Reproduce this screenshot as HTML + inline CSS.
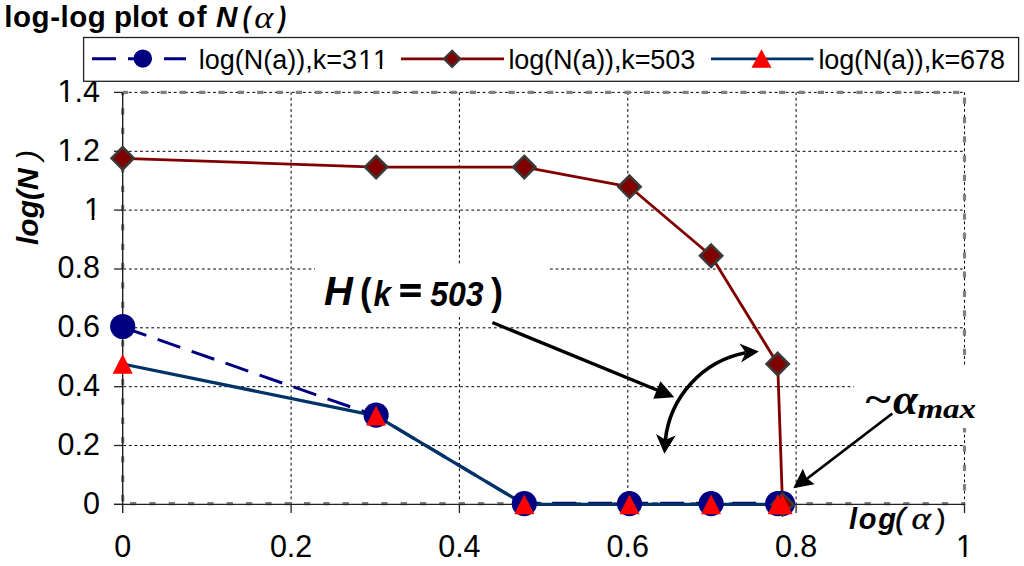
<!DOCTYPE html><html><head><meta charset="utf-8"><style>
html,body{margin:0;padding:0;background:#fff;width:1024px;height:566px;overflow:hidden}
svg{display:block}
.s{font-family:"Liberation Sans",sans-serif}
.r{font-family:"Liberation Serif",serif}
.b{font-weight:bold}.i{font-style:italic}
</style></head><body>
<svg width="1024" height="566" viewBox="0 0 1024 566">
<rect width="1024" height="566" fill="#fff"/>
<line x1="291.1" y1="92.4" x2="291.1" y2="504.4" stroke="#000" stroke-width="1" stroke-dasharray="2.8 2.815" stroke-dashoffset="0.22"/>
<line x1="459.4" y1="92.4" x2="459.4" y2="504.4" stroke="#000" stroke-width="1" stroke-dasharray="2.8 2.815" stroke-dashoffset="0.22"/>
<line x1="627.8" y1="92.4" x2="627.8" y2="504.4" stroke="#000" stroke-width="1" stroke-dasharray="2.8 2.815" stroke-dashoffset="0.22"/>
<line x1="796.1" y1="92.4" x2="796.1" y2="504.4" stroke="#000" stroke-width="1" stroke-dasharray="2.8 2.815" stroke-dashoffset="0.22"/>
<line x1="964.5" y1="92.4" x2="964.5" y2="504.4" stroke="#000" stroke-width="1" stroke-dasharray="2.8 2.815" stroke-dashoffset="0.22"/>
<line x1="122.7" y1="445.5" x2="964.5" y2="445.5" stroke="#000" stroke-width="1" stroke-dasharray="2.8 2.815" stroke-dashoffset="5.03"/>
<line x1="122.7" y1="386.7" x2="964.5" y2="386.7" stroke="#000" stroke-width="1" stroke-dasharray="2.8 2.815" stroke-dashoffset="5.03"/>
<line x1="122.7" y1="327.8" x2="964.5" y2="327.8" stroke="#000" stroke-width="1" stroke-dasharray="2.8 2.815" stroke-dashoffset="5.03"/>
<line x1="122.7" y1="269.0" x2="964.5" y2="269.0" stroke="#000" stroke-width="1" stroke-dasharray="2.8 2.815" stroke-dashoffset="5.03"/>
<line x1="122.7" y1="210.1" x2="964.5" y2="210.1" stroke="#000" stroke-width="1" stroke-dasharray="2.8 2.815" stroke-dashoffset="5.03"/>
<line x1="122.7" y1="151.3" x2="964.5" y2="151.3" stroke="#000" stroke-width="1" stroke-dasharray="2.8 2.815" stroke-dashoffset="5.03"/>
<line x1="122.7" y1="92.4" x2="964.5" y2="92.4" stroke="#000" stroke-width="1" stroke-dasharray="2.8 2.815" stroke-dashoffset="5.03"/>
<line x1="122.7" y1="92.4" x2="964.5" y2="92.4" stroke="#808080" stroke-width="3.2" stroke-dasharray="6.3 13.03" stroke-dashoffset="0.90"/>
<line x1="964.5" y1="92.4" x2="964.5" y2="504.4" stroke="#808080" stroke-width="3.2" stroke-dasharray="6.3 13.03" stroke-dashoffset="14.23"/>
<line x1="122.7" y1="503.6" x2="964.5" y2="503.6" stroke="#808080" stroke-width="3.2" stroke-dasharray="6.3 13.03" stroke-dashoffset="12.03"/>
<line x1="122.7" y1="92.4" x2="122.7" y2="504.4" stroke="#808080" stroke-width="3.2" stroke-dasharray="6.3 13.03" stroke-dashoffset="3.40"/>
<line x1="122.7" y1="92.4" x2="122.7" y2="513" stroke="#222" stroke-width="1.4"/>
<line x1="114" y1="504.4" x2="964.5" y2="504.4" stroke="#222" stroke-width="1.3"/>
<line x1="114" y1="504.4" x2="122.7" y2="504.4" stroke="#222" stroke-width="1.3"/>
<line x1="114" y1="445.5" x2="122.7" y2="445.5" stroke="#222" stroke-width="1.3"/>
<line x1="114" y1="386.7" x2="122.7" y2="386.7" stroke="#222" stroke-width="1.3"/>
<line x1="114" y1="327.8" x2="122.7" y2="327.8" stroke="#222" stroke-width="1.3"/>
<line x1="114" y1="269.0" x2="122.7" y2="269.0" stroke="#222" stroke-width="1.3"/>
<line x1="114" y1="210.1" x2="122.7" y2="210.1" stroke="#222" stroke-width="1.3"/>
<line x1="114" y1="151.3" x2="122.7" y2="151.3" stroke="#222" stroke-width="1.3"/>
<line x1="114" y1="92.4" x2="122.7" y2="92.4" stroke="#222" stroke-width="1.3"/>
<line x1="291.1" y1="504.4" x2="291.1" y2="513" stroke="#222" stroke-width="1.3"/>
<line x1="459.4" y1="504.4" x2="459.4" y2="513" stroke="#222" stroke-width="1.3"/>
<line x1="627.8" y1="504.4" x2="627.8" y2="513" stroke="#222" stroke-width="1.3"/>
<line x1="796.1" y1="504.4" x2="796.1" y2="513" stroke="#222" stroke-width="1.3"/>
<line x1="964.5" y1="504.4" x2="964.5" y2="513" stroke="#222" stroke-width="1.3"/>
<text id="yt0" class="s" x="100" y="513.8" font-size="30.5" text-anchor="end">0</text>
<text id="yt1" class="s" x="100" y="454.9" font-size="30.5" text-anchor="end">0.2</text>
<text id="yt2" class="s" x="100" y="396.1" font-size="30.5" text-anchor="end">0.4</text>
<text id="yt3" class="s" x="100" y="337.2" font-size="30.5" text-anchor="end">0.6</text>
<text id="yt4" class="s" x="100" y="278.4" font-size="30.5" text-anchor="end">0.8</text>
<text id="yt5" class="s" x="101" y="219.5" font-size="30.5" text-anchor="end">1</text>
<text id="yt6" class="s" x="100" y="160.7" font-size="30.5" text-anchor="end">1.2</text>
<text id="yt7" class="s" x="100" y="101.8" font-size="30.5" text-anchor="end">1.4</text>
<text id="xt0" class="s" x="122.7" y="557.2" font-size="30.5" text-anchor="middle">0</text>
<text id="xt1" class="s" x="291.1" y="557.2" font-size="30.5" text-anchor="middle">0.2</text>
<text id="xt2" class="s" x="459.4" y="557.2" font-size="30.5" text-anchor="middle">0.4</text>
<text id="xt3" class="s" x="627.8" y="557.2" font-size="30.5" text-anchor="middle">0.6</text>
<text id="xt4" class="s" x="796.1" y="557.2" font-size="30.5" text-anchor="middle">0.8</text>
<text id="xt5" class="s" x="964.5" y="557.2" font-size="30.5" text-anchor="middle">1</text>
<polyline points="122.7,327.2 376.1,415.8 524.3,504.4" fill="none" stroke="#000080" stroke-width="3" stroke-dasharray="24 12" stroke-dashoffset="-1"/>
<line x1="524.3" y1="503.2" x2="782.5" y2="503.2" stroke="#000080" stroke-width="3" stroke-dasharray="24 12" stroke-dashoffset="440.13"/>
<polyline points="122.7,158.3 376.1,167.1 524.3,167.1 629.5,186.8 711.1,255.7 777.7,364.0 782.5,504.4" fill="none" stroke="#800000" stroke-width="2.8" stroke-linejoin="round"/>
<polyline points="122.7,364.0 376.1,415.8 524.3,504.4 629.5,504.4 711.1,504.4 777.7,504.4 782.5,504.4" fill="none" stroke="#003366" stroke-width="3.3" stroke-linejoin="round"/>
<circle cx="122.7" cy="326.5" r="12.6" fill="#000080"/>
<circle cx="376.1" cy="415.1" r="12.6" fill="#000080"/>
<circle cx="524.3" cy="503.7" r="12.6" fill="#000080"/>
<circle cx="629.5" cy="503.7" r="12.6" fill="#000080"/>
<circle cx="711.1" cy="503.7" r="12.6" fill="#000080"/>
<circle cx="777.7" cy="503.7" r="12.6" fill="#000080"/>
<circle cx="782.5" cy="503.7" r="12.6" fill="#000080"/>
<path d="M782.5,493.3 L793.6,504.4 L782.5,515.5 L771.4,504.4 Z" fill="#800000" stroke="#3a3a3a" stroke-width="2.6"/>
<path d="M122.7,147.2 L133.8,158.3 L122.7,169.4 L111.6,158.3 Z" fill="#800000" stroke="#3a3a3a" stroke-width="2.6"/>
<path d="M376.1,156.0 L387.2,167.1 L376.1,178.2 L365.0,167.1 Z" fill="#800000" stroke="#3a3a3a" stroke-width="2.6"/>
<path d="M524.3,156.0 L535.4,167.1 L524.3,178.2 L513.2,167.1 Z" fill="#800000" stroke="#3a3a3a" stroke-width="2.6"/>
<path d="M629.5,175.7 L640.6,186.8 L629.5,197.9 L618.4,186.8 Z" fill="#800000" stroke="#3a3a3a" stroke-width="2.6"/>
<path d="M711.1,244.6 L722.2,255.7 L711.1,266.8 L700.0,255.7 Z" fill="#800000" stroke="#3a3a3a" stroke-width="2.6"/>
<path d="M777.7,352.9 L788.8,364.0 L777.7,375.1 L766.6,364.0 Z" fill="#800000" stroke="#3a3a3a" stroke-width="2.6"/>
<path d="M122.7,354.0 L132.7,373.8 L112.7,373.8 Z" fill="#ff0000"/>
<path d="M376.1,405.8 L386.1,425.6 L366.1,425.6 Z" fill="#ff0000"/>
<path d="M524.3,494.4 L534.3,514.2 L514.3,514.2 Z" fill="#ff0000"/>
<path d="M629.5,494.4 L639.5,514.2 L619.5,514.2 Z" fill="#ff0000"/>
<path d="M711.1,494.4 L721.1,514.2 L701.1,514.2 Z" fill="#ff0000"/>
<path d="M777.7,494.4 L787.7,514.2 L767.7,514.2 Z" fill="#ff0000"/>
<path d="M782.5,494.4 L792.5,514.2 L772.5,514.2 Z" fill="#ff0000"/>
<rect x="83.6" y="37.5" width="935" height="43.8" fill="#fff" stroke="#222" stroke-width="1.3"/>
<line x1="92" y1="58.8" x2="186" y2="58.8" stroke="#000080" stroke-width="3" stroke-dasharray="24 12"/>
<circle cx="142.8" cy="58.6" r="9.2" fill="#000080"/>
<line x1="401" y1="58.9" x2="504" y2="58.9" stroke="#800000" stroke-width="2.7"/>
<path d="M452.1,50.7 L460.2,58.8 L452.1,66.9 L444,58.8 Z" fill="#800000" stroke="#3a3a3a" stroke-width="2.2"/>
<line x1="711" y1="58.9" x2="813.5" y2="58.9" stroke="#003366" stroke-width="2.7"/>
<path d="M761.5,49.2 L771.5,67.7 L751.5,67.7 Z" fill="#ff0000"/>
<text id="leg1" class="s" x="198.7" y="68.8" font-size="27">log(N(a)),k=3<tspan dx="1.3">1</tspan><tspan dx="1.7">1</tspan></text>
<text id="leg2" class="s" x="508.4" y="68.8" font-size="27" letter-spacing="-0.11">log(N(a)),k=503</text>
<text id="leg3" class="s" x="818.4" y="68.8" font-size="27" letter-spacing="-0.13">log(N(a)),k=678</text>
<rect x="85.51" y="216.00" width="6.18" height="4.00" fill="#fff"/>
<rect x="94.40" y="216.00" width="6.07" height="4.00" fill="#fff"/>
<rect x="59.07" y="158.00" width="6.18" height="4.00" fill="#fff"/>
<rect x="67.96" y="158.00" width="6.07" height="4.00" fill="#fff"/>
<rect x="59.07" y="99.00" width="6.18" height="4.00" fill="#fff"/>
<rect x="67.96" y="99.00" width="6.07" height="4.00" fill="#fff"/>
<rect x="957.50" y="554.00" width="6.18" height="4.00" fill="#fff"/>
<rect x="966.39" y="554.00" width="6.07" height="4.00" fill="#fff"/>
<rect x="359.53" y="66.00" width="5.54" height="4.00" fill="#fff"/>
<rect x="367.46" y="66.00" width="5.47" height="4.00" fill="#fff"/>
<rect x="374.25" y="66.00" width="5.54" height="4.00" fill="#fff"/>
<rect x="382.18" y="66.00" width="5.47" height="4.00" fill="#fff"/>
<text id="t1" class="s b" x="4.3" y="27.3" font-size="29.5" letter-spacing="0.55">log-log</text>
<text id="t2" class="s b" x="114" y="27.3" font-size="29.5">plot</text>
<text id="t3" class="s b" x="177.5" y="27.3" font-size="29.5" letter-spacing="1.2">of</text>
<text id="t4" class="s b i" x="216" y="27.3" font-size="29.5">N</text>
<text id="t5" class="s b" x="0" y="0" font-size="29.5" transform="translate(241.8,27.3) skewX(-7) scale(0.8,1)">(</text>
<text id="t6" class="r i" x="0" y="0" font-size="34" transform="translate(254.2,27.900000000000002) scale(1.06,0.92)">α</text>
<text id="t7" class="s b" x="0" y="0" font-size="29.5" transform="translate(277.6,27.3) skewX(-7) scale(0.8,1)">)</text>
<g transform="translate(37.5,245) rotate(-90)"><text id="yl1" class="s b i" x="0" y="0" font-size="30">log(N</text><text id="yl2" class="s i" x="85" y="0" font-size="30">)</text></g>
<text id="xl1" class="s b i" x="849" y="528.6" font-size="29" letter-spacing="1.8">log</text>
<text id="xl2" class="s i" x="895.3" y="528.6" font-size="29.5" stroke="#000" stroke-width="0.6">(</text>
<text id="xl3" class="r i" x="0" y="0" font-size="34.5" stroke="#000" stroke-width="0.35" transform="translate(911.5,529.2) scale(1.07,0.9)">α</text>
<text id="xl4" class="s" x="0" y="0" font-size="28" stroke="#000" stroke-width="0.4" transform="translate(935.6,528.9) skewX(-5)">)</text>
<rect x="315" y="264" width="235" height="53" fill="#fff"/>
<text id="h1" class="s b i" x="324" y="304.9" font-size="40">H</text>
<text id="h2" class="s b" x="0" y="0" font-size="39" transform="translate(359.9,305.3) scale(0.9,1)">(</text>
<text id="h3" class="s b i" x="0" y="0" font-size="31.5" transform="translate(373.6,305.7) scale(1,1.1)">k</text>
<g id="h4"><rect x="400.3" y="284" width="20.4" height="4.8" fill="#000"/><rect x="400.3" y="292.4" width="20.4" height="4.6" fill="#000"/></g>
<text id="h5" class="s b i" x="0" y="0" font-size="32" transform="translate(430.2,305.7) scale(1,1.11)">503</text>
<text id="h6" class="s b" x="0" y="0" font-size="39" transform="translate(490.9,305.29999999999995) scale(0.92,1)">)</text>
<rect x="854" y="365" width="126" height="63" fill="#fff"/>
<text id="a1" class="r b" x="0" y="0" font-size="46" transform="translate(865.4,411.9) scale(1.06,0.82)">~</text>
<text id="a2" class="r b i" x="893" y="414" font-size="45">α</text>
<text id="a3" class="r b i" x="0" y="0" font-size="28" transform="translate(917.4,418.0) scale(1.18,1)">max</text>
<line x1="492.4" y1="322.5" x2="660" y2="391.3" stroke="#000" stroke-width="3.4"/>
<path d="M674.30,397.20 L653.25,398.72 L656.82,390.02 L660.39,381.32 Z" fill="#000"/>
<path d="M665.3,440.5 A100,100 0 0 1 745.5,352.8" fill="none" stroke="#000" stroke-width="3.6"/>
<path d="M758.90,351.40 L741.02,362.62 L745.75,352.56 L739.33,343.49 Z" fill="#000"/>
<path d="M664.40,453.80 L655.98,433.91 L665.46,439.84 L675.72,435.40 Z" fill="#000"/>
<line x1="892.3" y1="413.5" x2="806" y2="479.5" stroke="#000" stroke-width="2.8"/>
<path d="M793.20,488.30 L802.84,468.87 L806.69,478.12 L814.53,484.35 Z" fill="#000"/>
</svg></body></html>
